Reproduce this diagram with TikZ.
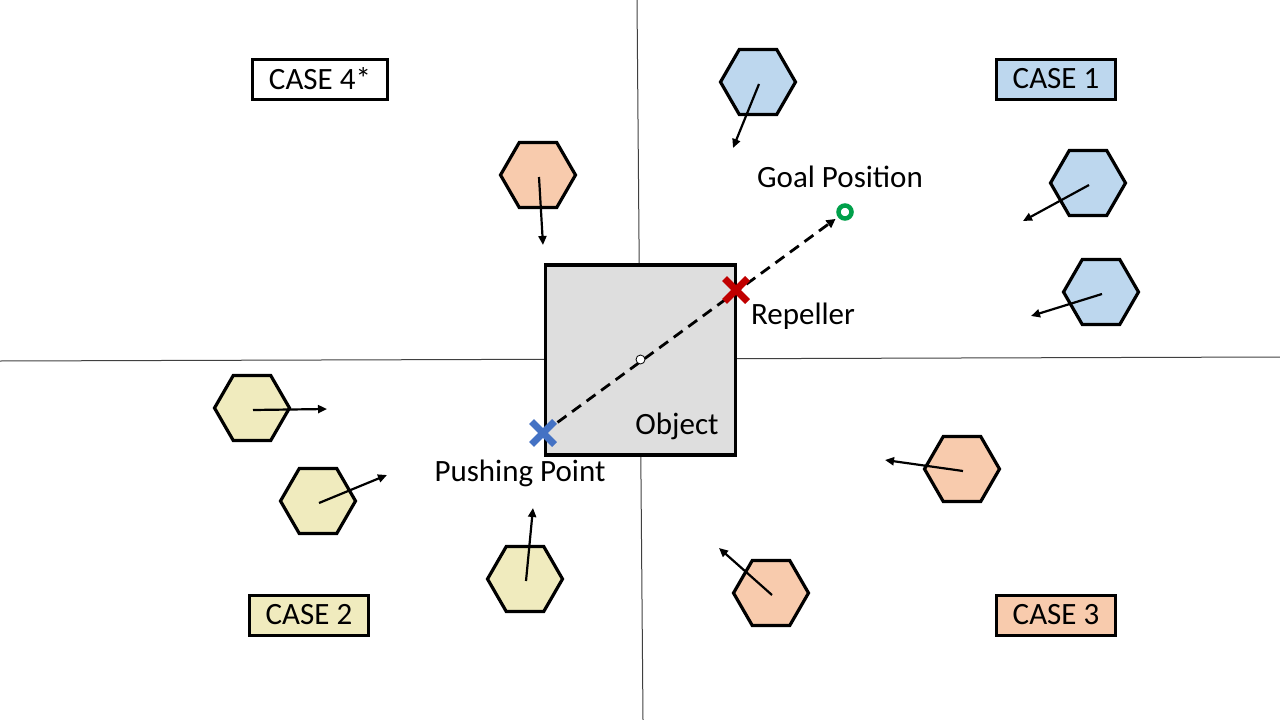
\documentclass[tikz,border=0pt]{standalone}
\usepackage{fontspec}
\setmainfont{Carlito}
\usetikzlibrary{shapes.geometric,shapes.misc,arrows.meta,positioning}
\definecolor{caseblue}{HTML}{BDD7EE}
\definecolor{caseorange}{HTML}{F8CBAD}
\definecolor{caseyellow}{HTML}{F0EBBE}
\definecolor{objgray}{HTML}{DEDEDE}
\definecolor{pushblue}{HTML}{4472C4}
\definecolor{repred}{HTML}{C00000}
\definecolor{goalgreen}{HTML}{00A04A}
\tikzstyle{hexa} = [draw, line width=3.2pt, regular polygon, regular polygon sides=6, minimum size=75pt, inner sep=0pt]
\tikzstyle{casebox} = [draw, line width=3pt, minimum height=40pt, inner xsep=16pt, inner ysep=2pt, font=\fontsize{31}{36}\selectfont]
\tikzstyle{lbl} = [font=\fontsize{31}{36}\selectfont, inner sep=0pt]
\tikzstyle{vel} = [-{Triangle[length=9pt,width=8pt]}, line width=2.2pt]
\tikzstyle{marker} = [cross out, draw, line width=7pt, minimum size=16pt, inner sep=0pt]

\begin{document}
\begin{tikzpicture}[x=1pt,y=-1pt]
\useasboundingbox (0,0) rectangle (1280,720);
\draw[line width=1pt, black!75] (637,0) -- (643,720);
\draw[line width=1pt, black!75] (0,361) -- (1280,357);

\node[draw, line width=3.5pt, fill=objgray, minimum size=190pt, inner sep=0pt] (object) at (640.5,360) {};
\node[lbl] (objlbl) at (677,426) {Object};

% case labels
\node[casebox, fill=white] (case4) at (320,79) {CASE 4*};
\node[casebox, fill=caseblue] (case1) at (1056,79) {CASE 1};
\node[casebox, fill=caseyellow] (case2) at (309,615) {CASE 2};
\node[casebox, fill=caseorange] (case3) at (1056,615) {CASE 3};

% obstacles
\node[hexa, fill=caseblue] (b1) at (758,82) {};
\node[hexa, fill=caseblue] (b2) at (1088,183) {};
\node[hexa, fill=caseblue] (b3) at (1101,292) {};
\node[hexa, fill=caseorange] (o1) at (538,175) {};
\node[hexa, fill=caseorange] (o2) at (962,469) {};
\node[hexa, fill=caseorange] (o3) at (771,593) {};
\node[hexa, fill=caseyellow] (y1) at (252,408) {};
\node[hexa, fill=caseyellow] (y2) at (318,501) {};
\node[hexa, fill=caseyellow] (y3) at (525,579) {};

\coordinate (b1v) at (733,148);
\coordinate (b2v) at (1023,221);
\coordinate (b3v) at (1031,316);
\coordinate (o1v) at (543,245);
\coordinate (o2v) at (885,460);
\coordinate (o3v) at (719,548);
\coordinate (y1v) at (327,409);
\coordinate (y2v) at (387,475);
\coordinate (y3v) at (533,508);
\foreach \h in {b1,b2,b3,o1,o2,o3,y1,y2,y3}
  \draw[vel] ([xshift=1pt,yshift=-2pt]\h.center) -- (\h v);

% pushing line
\node[circle, draw=goalgreen, line width=4.5pt, fill=white, minimum size=13pt, inner sep=0pt] (goal) at (845,212) {};
\node[lbl] (goallbl) at (840,177) {Goal Position};
\coordinate (push) at (543,433);
\draw[line width=2.8pt, dash pattern=on 11pt off 7pt, -{Triangle[length=9pt,width=9pt]}, shorten >=3pt] (push) -- (goal);
\node[circle, draw, fill=white, line width=0.8pt, minimum size=9pt, inner sep=0pt] (center) at (640.5,359.5) {};
\node[marker, pushblue] (pushx) at (push) {};
\node[lbl] (pushlbl) at (520,473) {Pushing Point};
\node[marker, repred] (rep) at (736,290) {};
\node[lbl] (replbl) at (803,316) {Repeller};
\end{tikzpicture}
\end{document}
